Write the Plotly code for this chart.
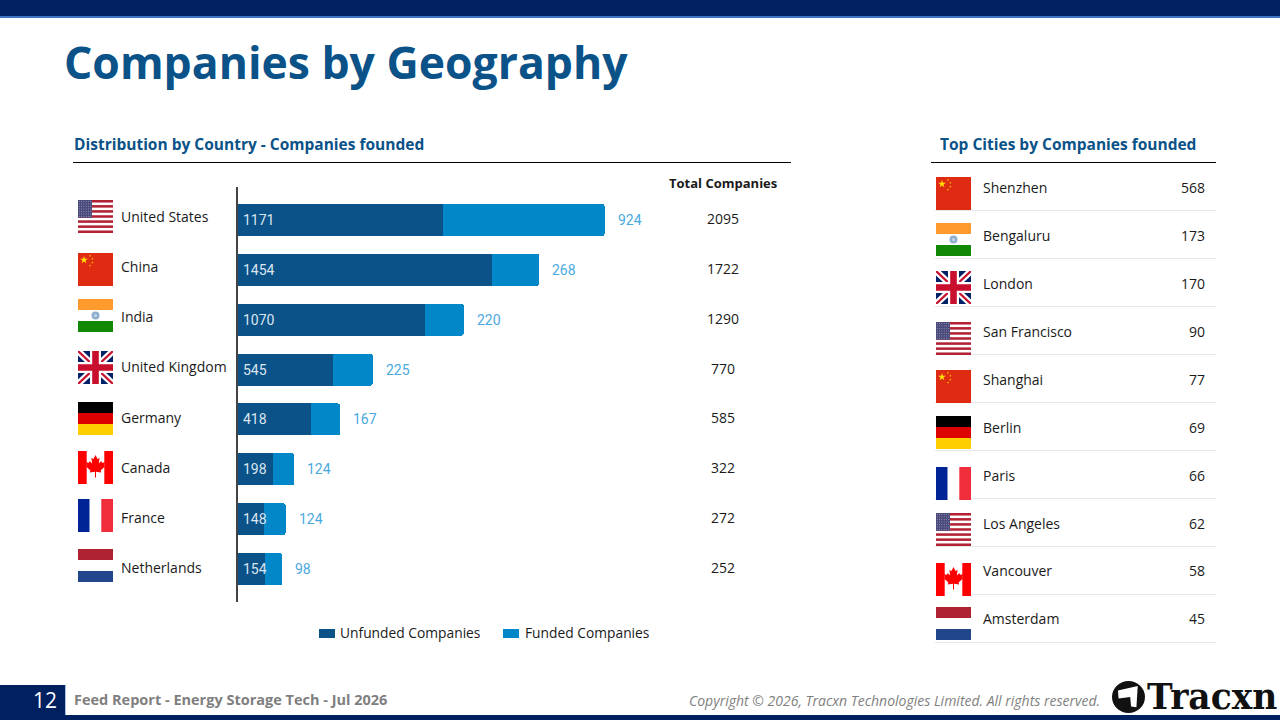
import base64
import math
import plotly.graph_objects as go

# ---------- data ----------
countries = ["United States", "China", "India", "United Kingdom", "Germany", "Canada", "France", "Netherlands"]
unfunded = [1171, 1454, 1070, 545, 418, 198, 148, 154]
funded = [924, 268, 220, 225, 167, 124, 124, 98]
totals = [2095, 1722, 1290, 770, 585, 322, 272, 252]
country_flags = ["us", "cn", "in", "gb", "de", "ca", "fr", "nl"]
cities = ["Shenzhen", "Bengaluru", "London", "San Francisco", "Shanghai", "Berlin", "Paris", "Los Angeles", "Vancouver", "Amsterdam"]
city_values = [568, 173, 170, 90, 77, 69, 66, 62, 58, 45]
city_flags = ["cn", "in", "gb", "us", "cn", "de", "fr", "us", "ca", "nl"]

# ---------- pixel layout ----------
W, H = 1280, 720
NAVY = "#002060"
DARK = "#0A5288"
LIGHT = "#0288C9"
LABEL = "#4AA9DE"
TITLE = "#0A5288"
TEXT = "#1a1a1a"
BODY = "Open Sans"
country_flag_y = [200, 253, 299, 351, 402, 451, 499, 549]
country_text_y = [216, 266, 316, 366, 417, 467, 517.5, 567.5]
total_text_y = [218, 268, 318, 368, 417.5, 467.5, 517.5, 567.5]
city_flag_y = [177, 223, 271, 322, 370, 416, 467, 513, 563, 607]
city_text_y = [187.5, 235.5, 283.5, 331.5, 379, 427, 475, 523, 570.5, 618.5]
city_rule_y = [210.5, 258.5, 306.5, 354.5, 402.5, 450.5, 498.5, 546.5, 594.5, 642.5]


def px(x):
    return x / W


def py(y):
    return 1 - y / H


def star(cx, cy, r):
    pts = []
    for i in range(10):
        a = -math.pi / 2 + i * math.pi / 5
        rr = r if i % 2 == 0 else r * 0.4
        pts.append(f"{cx + rr * math.cos(a):.2f},{cy + rr * math.sin(a):.2f}")
    return f'<polygon fill="#FFDE00" points="{" ".join(pts)}"/>'


def us_svg():
    s = '<rect width="35" height="33" fill="#fff"/>'
    for i in range(7):
        s += f'<rect y="{i * 33 / 6.5:.2f}" width="35" height="{33 / 13:.2f}" fill="#B22234"/>'
    s += '<rect width="14" height="17.8" fill="#4B4A7C"/>'
    for r in range(7):
        for c in range(6):
            s += f'<circle cx="{1.3 + c * 2.3:.1f}" cy="{1.4 + r * 2.5:.1f}" r="0.45" fill="#ddd"/>'
    return s


FLAGS = {
    "us": us_svg(),
    "cn": '<rect width="35" height="33" fill="#E02B13"/>' + star(6, 7, 4) + star(12, 2.8, 1.2) + star(14.4, 5.8, 1.2) + star(14.4, 9.6, 1.2) + star(12, 12.6, 1.2),
    "in": '<rect width="35" height="11" fill="#FF9A2E"/><rect y="11" width="35" height="11" fill="#fff"/><rect y="22" width="35" height="11" fill="#128807"/><circle cx="17.5" cy="16.5" r="4" fill="#8FAFCF"/><circle cx="17.5" cy="16.5" r="1.5" fill="#C6D6E6"/>',
    "gb": '<rect width="35" height="33" fill="#012169"/><path d="M0 0L35 33M35 0L0 33" stroke="#fff" stroke-width="6.5"/><path d="M0 0L35 33M35 0L0 33" stroke="#C8102E" stroke-width="2.2"/><path d="M17.5 0V33M0 16.5H35" stroke="#fff" stroke-width="11"/><path d="M17.5 0V33M0 16.5H35" stroke="#C8102E" stroke-width="6.6"/>',
    "de": '<rect width="35" height="11" fill="#000"/><rect y="11" width="35" height="11" fill="#DD0000"/><rect y="22" width="35" height="11" fill="#FFCE00"/>',
    "ca": '<rect width="35" height="33" fill="#fff"/><rect width="8.7" height="33" fill="#FF0000"/><rect x="26.3" width="8.7" height="33" fill="#FF0000"/><path fill="#FF0000" d="M17.5 4L19.5 8L21.6 7L20.8 12.6L23.3 10L24 11.7L27 11.2L26 14.5L27.2 15.3L22.6 19.4L23.3 21.4L18 20.8L18 26.5H17L17 20.8L11.7 21.4L12.4 19.4L7.8 15.3L9 14.5L8 11.2L11 11.7L11.7 10L14.2 12.6L13.4 7L15.5 8Z"/>',
    "fr": '<rect width="11.7" height="33" fill="#002395"/><rect x="11.7" width="11.6" height="33" fill="#fff"/><rect x="23.3" width="11.7" height="33" fill="#F02D3A"/>',
    "nl": '<rect width="35" height="11" fill="#AE2233"/><rect y="11" width="35" height="11" fill="#fff"/><rect y="22" width="35" height="11" fill="#21468B"/>',
}


def flag_uri(code):
    svg = f'<svg xmlns="http://www.w3.org/2000/svg" viewBox="0 0 35 33" width="140" height="132" preserveAspectRatio="none">{FLAGS[code]}</svg>'
    return "data:image/svg+xml;base64," + base64.b64encode(svg.encode()).decode()


def flag_image(code, x, y):
    return dict(source=flag_uri(code), xref="paper", yref="paper", x=px(x), y=py(y), sizex=35 / W, sizey=33 / H,
                xanchor="left", yanchor="top", sizing="stretch", layer="above")


def label(text, x, y, size=14, color=TEXT, anchor="left", bold=False, family=BODY, italic=False):
    s = f"<b>{text}</b>" if bold else text
    if italic:
        s = f"<i>{s}</i>"
    return dict(text=s, xref="paper", yref="paper", x=px(x), y=py(y), xanchor=anchor, yanchor="middle",
                showarrow=False, borderpad=0, font=dict(family=family, size=size, color=color))


def rect(x0, y0, x1, y1, color):
    return dict(type="rect", xref="paper", yref="paper", x0=px(x0), x1=px(x1), y0=py(y0), y1=py(y1),
                fillcolor=color, line=dict(width=0), layer="below")


def rule(x0, x1, y, color, width=1):
    return dict(type="line", xref="paper", yref="paper", x0=px(x0), x1=px(x1), y0=py(y), y1=py(y),
                line=dict(color=color, width=width), layer="below")


fig = go.Figure()
fig.add_bar(y=countries, x=unfunded, name="Unfunded Companies", orientation="h", marker=dict(color=DARK, line_width=0),
            hoverinfo="skip", showlegend=False)
fig.add_bar(y=countries, x=funded, name="Funded Companies", orientation="h", marker=dict(color=LIGHT, line_width=0),
            hoverinfo="skip", showlegend=False)

annotations = []
shapes = [rect(0, 0, W, 16, NAVY), rect(0, 16, W, 18, "#3F73C4"),
          rect(0, 715, W, 720, NAVY), rect(0, 685, 65, 720, NAVY), rect(65, 685, 66, 715, "#A9C4E6"),
          rule(73, 791, 162.5, "#000000"), rule(931, 1216, 162.5, "#000000"),
          rect(319, 629, 335, 638, DARK), rect(503, 629, 519, 638, LIGHT)]
images = []

annotations += [
    label("Companies by Geography", 63, 61, size=44.5, color=TITLE, bold=True),
    label("Distribution by Country - Companies founded", 73, 144, size=15.5, color=TITLE, bold=True),
    label("Top Cities by Companies founded", 939, 144, size=15.5, color=TITLE, bold=True),
    label("Total Companies", 723, 182.5, size=13, color=TEXT, anchor="center", bold=True),
    label("12", 45, 700, size=21, color="#FFFFFF", anchor="center"),
    label("Feed Report - Energy Storage Tech - Jul 2026", 72.5, 699, size=14.5, color="#7F7F7F", bold=True),
    label("Copyright © 2026, Tracxn Technologies Limited. All rights reserved.", 1101, 700, size=14, color="#7F7F7F", anchor="right", italic=True),
    label("Tracxn", 1146, 697, size=34.5, color="#111111", bold=True, family="DejaVu Serif"),
    label("Unfunded Companies", 339, 632.5, size=13.8),
    label("Funded Companies", 523.5, 632.5, size=13.8),
]

for i, name in enumerate(countries):
    annotations.append(label(name, 119.5, country_text_y[i]))
    annotations.append(label(str(totals[i]), 723, total_text_y[i], anchor="center"))
    annotations.append(dict(x=0, y=name, xref="x", yref="y", xanchor="left", yanchor="middle", xshift=3,
                            text=str(unfunded[i]), showarrow=False, font=dict(family="Roboto", size=14, color="#DCE6F0")))
    annotations.append(dict(x=totals[i], y=name, xref="x", yref="y", xanchor="left", yanchor="middle", xshift=11,
                            text=str(funded[i]), showarrow=False, font=dict(family="Roboto", size=14, color=LABEL)))
    images.append(flag_image(country_flags[i], 78, country_flag_y[i]))

for i, name in enumerate(cities):
    annotations.append(label(name, 981.5, city_text_y[i]))
    annotations.append(label(str(city_values[i]), 1205.5, city_text_y[i], anchor="right"))
    images.append(flag_image(city_flags[i], 936, city_flag_y[i]))
    shapes.append(rule(935, 1216, city_rule_y[i], "#E7E7E7"))

# Tracxn logo mark
shapes.append(dict(type="circle", xref="paper", yref="paper", x0=px(1112), x1=px(1145), y0=py(681), y1=py(713),
                   fillcolor="#111111", line_width=0, layer="above"))
shapes.append(dict(type="path", xref="x2", yref="y2", path="M 0.18 0.3 L 0.78 0.16 L 0.74 0.82 L 0.58 0.8 L 0.55 0.5 L 0.2 0.55 Z",
                   fillcolor="#FFFFFF", line_width=0, layer="above"))

fig.update_layout(
    width=W, height=H, autosize=False, margin=dict(l=0, r=0, t=0, b=0),
    paper_bgcolor="#FFFFFF", plot_bgcolor="rgba(0,0,0,0)", barmode="stack", bargap=0.36, barcornerradius=2,
    showlegend=False,
    xaxis=dict(domain=[px(238), px(791)], range=[0, 553 / 0.175], visible=False, fixedrange=True),
    yaxis=dict(domain=[py(602), py(187)], type="category", categoryorder="array", categoryarray=countries,
               range=[7.66, -0.66], showline=True, linecolor="#444444", linewidth=2, showticklabels=False, ticks="",
               showgrid=False, zeroline=False, fixedrange=True),
    xaxis2=dict(domain=[px(1112), px(1145)], range=[0, 1], visible=False, anchor="y2", fixedrange=True),
    yaxis2=dict(domain=[py(713), py(681)], range=[1, 0], visible=False, anchor="x2", fixedrange=True),
    annotations=annotations, shapes=shapes, images=images,
)

fig.write_html("out.html", config={"displayModeBar": False, "responsive": False},
               post_script="document.body.style.margin='0';document.documentElement.style.overflow='hidden';")
